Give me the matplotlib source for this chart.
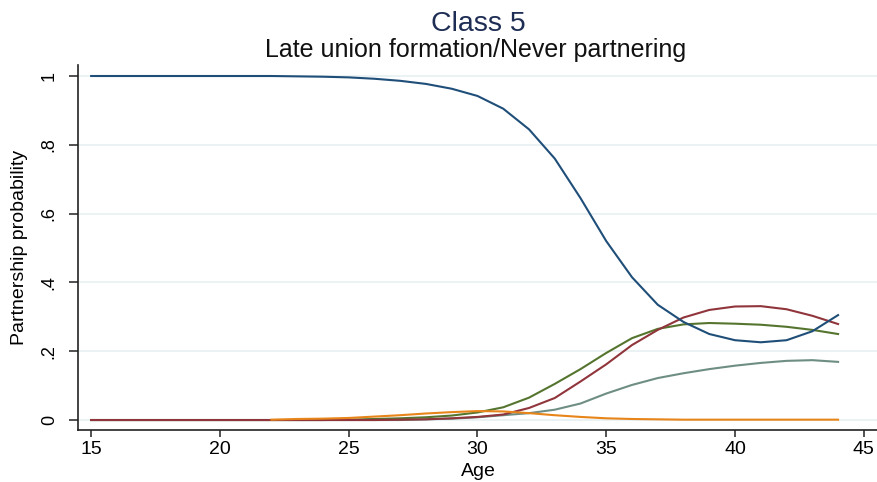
import numpy as np
import matplotlib
matplotlib.use("Agg")
import matplotlib.pyplot as plt

plt.rcParams['font.family'] = ['Liberation Sans', 'DejaVu Sans']

ages = list(range(15, 45))

# Predicted partnership-state probabilities by age
p_single = [1.0, 1.0, 1.0, 1.0, 1.0, 1.0, 1.0, 1.0, 0.999, 0.998,
            0.996, 0.992, 0.986, 0.977, 0.963, 0.942, 0.905, 0.845, 0.76, 0.645,
            0.52, 0.415, 0.335, 0.285, 0.25, 0.232, 0.226, 0.232, 0.258, 0.305]
p_red = [0, 0, 0, 0, 0, 0, 0, 0, 0, 0,
         0, 0, 0.001, 0.002, 0.005, 0.009, 0.016, 0.035, 0.064, 0.112,
         0.162, 0.218, 0.262, 0.298, 0.32, 0.33, 0.331, 0.322, 0.303, 0.279]
p_green = [0, 0, 0, 0, 0, 0, 0, 0, 0, 0,
           0.001, 0.003, 0.005, 0.008, 0.013, 0.022, 0.037, 0.065, 0.105, 0.148,
           0.195, 0.238, 0.265, 0.278, 0.282, 0.28, 0.277, 0.271, 0.262, 0.25]
p_teal = [0, 0, 0, 0, 0, 0, 0, 0, 0, 0,
          0, 0, 0, 0.002, 0.004, 0.008, 0.014, 0.02, 0.03, 0.048,
          0.077, 0.102, 0.122, 0.136, 0.148, 0.158, 0.166, 0.172, 0.174, 0.169]
p_orange = [None, None, None, None, None, None, None, 0.001, 0.003, 0.004,
            0.006, 0.01, 0.014, 0.019, 0.023, 0.026, 0.025, 0.02, 0.014, 0.009,
            0.005, 0.003, 0.002, 0.001, 0.001, 0.001, 0.001, 0.001, 0.001, 0.001]

y_ticks = [0, 0.2, 0.4, 0.6, 0.8, 1.0]
y_ticklabels = ["0", ".2", ".4", ".6", ".8", "1"]
x_ticks = [15, 20, 25, 30, 35, 40, 45]

fig = plt.figure(figsize=(8.78, 4.82), dpi=100)
ax = fig.add_axes([78 / 878, 52 / 482, 800 / 878, 365 / 482])

for yt in y_ticks:
    ax.axhline(yt, color="#e8f0f2", lw=1.2, zorder=0)

def to_arr(v):
    return np.array([np.nan if a is None else a for a in v], dtype=float)

ax.plot(ages, to_arr(p_teal), color="#6e8e84", lw=1.5)
ax.plot(ages, to_arr(p_green), color="#55752f", lw=1.5)
ax.plot(ages, to_arr(p_red), color="#90353b", lw=1.5)
ax.plot(ages, to_arr(p_orange), color="#e8851a", lw=1.5)
ax.plot(ages, to_arr(p_single), color="#1f4e79", lw=1.5)

ax.set_xlim(14.49, 45.55)
ax.set_ylim(-0.029, 1.032)
ax.set_xticks(x_ticks)
ax.set_yticks(y_ticks)
ax.set_yticklabels(y_ticklabels, rotation=90, va="center")
ax.tick_params(axis="x", labelsize=14, length=5, width=1.2, color="#333333", pad=3)
ax.tick_params(axis="y", labelsize=13, length=6.5, width=1.2, color="#333333", pad=8)

for s in ["top", "right"]:
    ax.spines[s].set_visible(False)
for s in ["left", "bottom"]:
    ax.spines[s].set_linewidth(1.2)
    ax.spines[s].set_color("#222222")

ax.set_xlabel("Age", fontsize=14)
ax.xaxis.label.set_va("center")
ax.xaxis.set_label_coords(0.5, -41 / 365)
ax.set_ylabel("Partnership probability", fontsize=14)
ax.yaxis.label.set_va("center")
ax.yaxis.set_label_coords(-58 / 800, 0.5)

fig.text(478 / 878, 1 - 31 / 482, "Class 5", ha="center", va="baseline",
         fontsize=20.5, color="#1e2d53")
fig.text(476 / 878, 1 - 57 / 482, "Late union formation/Never partnering",
         ha="center", va="baseline", fontsize=18, color="#111111")

fig.savefig("out.png", dpi=100)
